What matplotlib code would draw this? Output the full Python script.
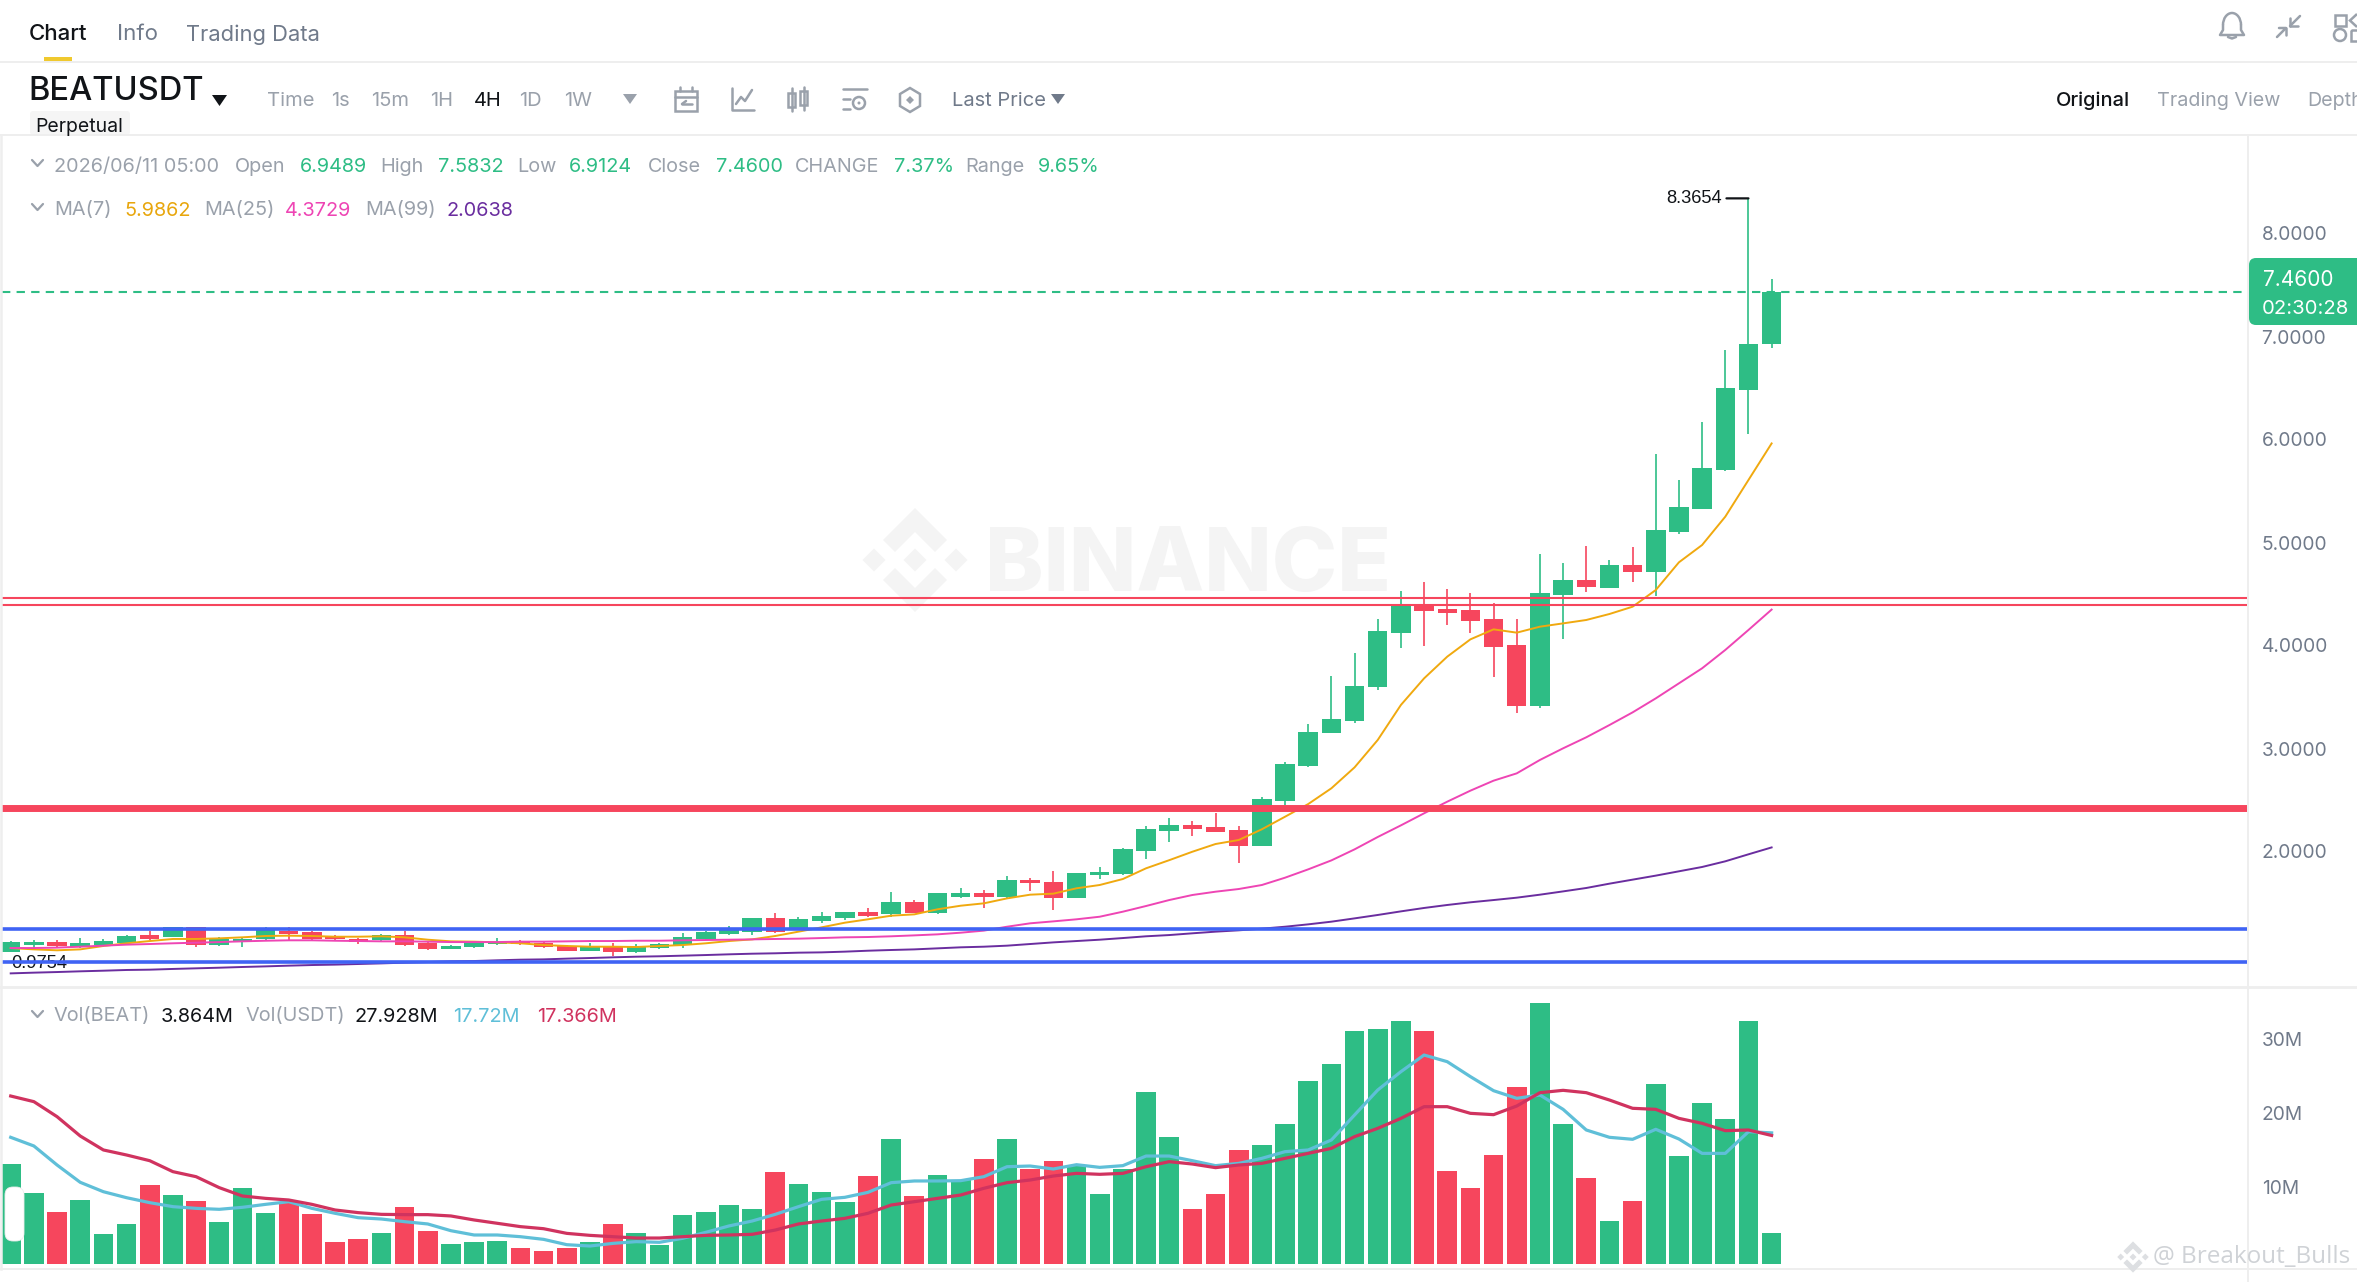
import matplotlib
matplotlib.use("Agg")
import matplotlib.pyplot as plt
from matplotlib.patches import FancyBboxPatch, Polygon, Rectangle, Circle, Arc
from matplotlib.transforms import ScaledTranslation

W, H = 2357, 1282
FONT = "Inter"
plt.rcParams["font.family"] = [FONT, "DejaVu Sans"]

opens = [1.045,1.113,1.145,1.100,1.116,1.139,1.210,1.194,1.294,1.116,1.152,1.171,1.256,1.243,1.197,1.175,1.162,1.214,1.133,1.078,
         1.094,1.123,1.142,1.133,1.107,1.061,1.107,1.052,1.087,1.120,1.178,1.227,1.243,1.379,1.275,1.353,1.375,1.434,1.417,1.537,
         1.430,1.586,1.621,1.579,1.747,1.731,1.576,1.793,1.806,2.032,2.226,2.281,2.259,2.233,2.081,2.515,2.858,3.171,3.294,3.618,
         4.149,4.418,4.379,4.372,4.278,4.029,3.440,4.514,4.660,4.586,4.809,4.741,5.130,5.346,5.728,6.508,6.9489]
highs = [1.155,1.165,1.165,1.188,1.175,1.214,1.256,1.294,1.294,1.191,1.191,1.290,1.294,1.256,1.214,1.181,1.224,1.256,1.149,1.116,
         1.145,1.181,1.165,1.142,1.113,1.133,1.133,1.126,1.133,1.236,1.256,1.301,1.382,1.424,1.385,1.440,1.437,1.472,1.631,1.553,
         1.618,1.667,1.650,1.786,1.763,1.838,1.812,1.877,2.055,2.272,2.346,2.320,2.395,2.275,2.550,2.890,3.262,3.728,3.948,4.278,
         4.557,4.637,4.570,4.534,4.440,4.278,4.913,4.828,4.990,4.854,4.977,5.880,5.634,6.197,6.893,8.3654,7.5832]
lows = [1.045,1.091,1.091,1.087,1.100,1.133,1.165,1.191,1.100,1.110,1.100,1.165,1.165,1.165,1.158,1.129,1.152,1.103,1.065,1.074,
        1.087,1.116,1.113,1.087,1.055,1.055,1.010,1.039,1.081,1.084,1.168,1.214,1.214,1.230,1.270,1.327,1.359,1.388,1.391,1.424,
        1.417,1.569,1.472,1.569,1.641,1.456,1.569,1.754,1.796,1.955,2.120,2.178,2.217,1.916,2.081,2.476,2.841,3.171,3.275,3.592,
        4.003,4.023,4.227,4.142,3.722,3.372,3.414,4.087,4.540,4.586,4.641,4.508,5.104,5.346,5.722,6.078,6.9124]
closes = [1.142,1.142,1.110,1.136,1.155,1.207,1.175,1.294,1.116,1.171,1.178,1.262,1.227,1.175,1.171,1.142,1.214,1.116,1.078,1.110,
          1.133,1.142,1.129,1.094,1.061,1.107,1.052,1.107,1.126,1.194,1.246,1.275,1.379,1.246,1.366,1.395,1.437,1.401,1.537,1.430,
          1.618,1.621,1.579,1.747,1.718,1.576,1.812,1.825,2.045,2.239,2.281,2.246,2.217,2.081,2.531,2.877,3.184,3.311,3.634,4.165,
          4.414,4.362,4.343,4.265,4.013,3.440,4.531,4.660,4.589,4.809,4.741,5.146,5.366,5.744,6.521,6.955,7.4600]

ma7 = [1.087,1.074,1.065,1.074,1.107,1.133,1.155,1.175,1.175,1.181,1.191,1.204,1.207,1.204,1.197,1.197,1.201,1.191,1.168,1.152,
       1.149,1.142,1.133,1.116,1.107,1.100,1.100,1.097,1.107,1.116,1.133,1.155,1.171,1.204,1.246,1.288,1.333,1.366,1.401,1.414,
       1.463,1.498,1.521,1.569,1.605,1.615,1.667,1.699,1.757,1.861,1.940,2.022,2.097,2.136,2.240,2.362,2.485,2.638,2.841,3.107,
       3.447,3.705,3.916,4.084,4.181,4.149,4.207,4.239,4.272,4.330,4.401,4.563,4.832,5.000,5.275,5.631,5.9862]
ma25 = [1.087,1.087,1.091,1.100,1.110,1.120,1.126,1.133,1.139,1.145,1.152,1.158,1.162,1.162,1.158,1.155,1.152,1.152,1.149,1.145,
        1.145,1.145,1.149,1.149,1.152,1.155,1.155,1.158,1.158,1.162,1.165,1.168,1.171,1.175,1.178,1.184,1.191,1.194,1.201,1.210,
        1.220,1.236,1.256,1.294,1.327,1.346,1.366,1.391,1.440,1.495,1.553,1.602,1.634,1.660,1.699,1.770,1.851,1.938,2.045,2.165,
        2.278,2.395,2.508,2.615,2.712,2.783,2.913,3.026,3.133,3.252,3.375,3.511,3.657,3.803,3.981,4.175,4.3729]
ma99 = [.841,.848,.854,.861,.867,.874,.877,.884,.890,.896,.903,.909,.916,.922,.926,.932,.938,.945,.951,.958,
        .961,.968,.974,.977,.984,.990,.997,1.003,1.007,1.013,1.019,1.026,1.032,1.036,1.042,1.045,1.052,1.061,1.068,1.074,
        1.084,1.094,1.100,1.110,1.126,1.142,1.155,1.168,1.184,1.201,1.213,1.230,1.246,1.259,1.275,1.294,1.317,1.343,1.375,1.408,
        1.443,1.476,1.505,1.531,1.553,1.576,1.605,1.637,1.670,1.712,1.751,1.790,1.832,1.874,1.929,1.997,2.0638]

volumes = [13.47,9.64,7.03,8.65,4.01,5.36,10.68,9.32,8.51,5.68,10.23,6.85,8.42,6.76,3.02,3.38,4.14,7.66,4.41,2.66,
           3.02,3.15,2.12,1.76,2.21,2.97,5.41,4.14,2.61,6.62,7.03,7.97,7.43,12.39,10.81,9.68,8.42,11.94,16.94,9.23,
           12.07,11.35,14.14,16.89,12.84,13.92,13.38,9.41,12.84,23.29,17.12,7.39,9.46,15.36,16.04,18.87,24.68,27.07,31.44,31.71,
           32.84,31.49,12.57,10.23,14.73,23.96,35.32,18.92,11.58,5.77,8.51,24.32,14.55,21.71,19.55,32.84,4.14]
vol_ma_short = [17.12,15.95,13.38,11.04,9.77,8.96,8.29,7.75,7.52,7.39,7.66,8.06,8.42,7.52,6.85,6.26,6.08,5.72,5.41,4.50,
                3.92,3.92,3.69,3.33,2.61,2.43,2.79,3.02,2.93,3.47,4.28,5.14,5.81,6.71,7.75,8.74,9.01,9.68,10.99,11.22,
                11.22,11.26,11.80,13.15,13.24,12.84,13.42,13.06,13.29,14.59,14.59,13.96,13.29,13.60,14.28,15.18,15.41,16.76,20.14,23.51,
                25.99,28.24,27.34,25.32,23.42,22.39,22.84,20.90,18.11,17.12,16.85,18.20,16.89,14.95,14.95,17.88,17.72]
vol_ma_long = [22.70,21.94,19.91,17.30,15.41,14.73,13.96,12.48,11.80,10.32,9.19,8.87,8.65,8.06,7.30,6.94,6.71,6.67,6.67,6.49,
               5.95,5.50,5.05,4.77,4.14,3.87,3.69,3.51,3.51,3.69,3.87,3.92,4.01,4.59,5.41,5.81,6.17,6.85,7.97,8.42,
               8.87,9.32,10.23,10.99,11.35,11.89,12.25,12.12,12.25,13.15,13.83,13.51,13.02,13.38,13.60,14.28,14.95,15.63,17.21,18.33,
               19.68,21.26,21.26,20.36,20.18,21.35,23.15,23.47,23.15,22.16,21.04,20.90,19.68,19.01,18.02,18.11,17.37]

price_ticks = [2, 3, 4, 5, 6, 7, 8]
price_tick_labels = ["2.0000", "3.0000", "4.0000", "5.0000", "6.0000", "7.0000", "8.0000"]
vol_ticks = [10, 20, 30]
vol_tick_labels = ["10M", "20M", "30M"]
support_blue = [1.275, 0.954]
resistance_thin = [4.485, 4.42]
resistance_thick = [2.447]
last_price = 7.46
peak_price = 8.3654
low_price_label = 0.9754

GREEN, RED = "#2EBD85", "#F6465D"
GRAY, DARK, LINE = "#9AA1AB", "#111418", "#EEEEEE"

fig = plt.figure(figsize=(W / 100, H / 100), dpi=100, facecolor="white")

def px_axes(x0, y0, x1, y1, **kw):
    return fig.add_axes([x0 / W, 1 - y1 / H, (x1 - x0) / W, (y1 - y0) / H], **kw)

# pixel-space axes for decorations
bg = px_axes(0, 0, W, H, zorder=0)
bg.set_xlim(0, W); bg.set_ylim(H, 0); bg.axis("off")
ui = px_axes(0, 0, W, H, zorder=3)
ui.set_xlim(0, W); ui.set_ylim(H, 0); ui.axis("off"); ui.patch.set_alpha(0)

SP, X0 = 23.17, 10.7
xl = ((2 - X0) / SP, (2247 - X0) / SP)
xs = list(range(len(closes)))
colors = [GREEN if c >= o else RED for o, c in zip(opens, closes)]

# price panel: y = 236 px at 8.0, 103 px per unit
ax = px_axes(2, 137, 2247, 986, zorder=1)
ax.patch.set_alpha(0)
ax.set_xlim(*xl)
ax.set_ylim(8 - (986 - 236) / 103, 8 + (236 - 137) / 103)
ax.vlines(xs, lows, highs, colors=colors, linewidth=1.2, zorder=2)
ax.bar(xs, [abs(c - o) for o, c in zip(opens, closes)], bottom=[min(o, c) for o, c in zip(opens, closes)],
       width=0.84, color=colors, linewidth=0, zorder=3)
ax.plot(xs, ma7, color="#F0A90F", lw=1.4, zorder=4)
ax.plot(xs, ma25, color="#EE45B4", lw=1.4, zorder=4)
ax.plot(xs, ma99, color="#6A2D9F", lw=1.4, zorder=4)
ax.text(1.24, 0.935, f"{low_price_label:.4f}", ha="center", va="center", fontsize=13.2,
        family="Liberation Sans", color=DARK, zorder=4)
for p in support_blue:
    ax.axhline(p, color="#3F63F4", lw=2.6, zorder=5)
for p in resistance_thin:
    ax.axhline(p, color=RED, lw=1.5, zorder=5)
for p in resistance_thick:
    ax.axhline(p, color=RED, lw=5, zorder=5)
ax.axhline(last_price, color=GREEN, lw=1.5, dashes=(4, 3), zorder=5)
peak_i = highs.index(peak_price)
ax.annotate(f"{peak_price:.4f}", (peak_i, peak_price), xytext=(-27, 0), textcoords="offset pixels",
            ha="right", va="center", fontsize=13.2, family="Liberation Sans", color=DARK)
ax.annotate("", (peak_i, peak_price), xytext=(-22, 0), textcoords="offset pixels",
            arrowprops=dict(arrowstyle="-", color=DARK, lw=1.6, shrinkA=0, shrinkB=0))

# volume panel: baseline 1264 px, 7.4 px per million
vax = px_axes(2, 988, 2247, 1269, zorder=1)
vax.patch.set_alpha(0)
vax.set_xlim(*xl)
vax.set_ylim(-(1269 - 1264) / 7.4, (1264 - 988) / 7.4)
vax.bar(xs, volumes, width=0.85, color=colors, linewidth=0, zorder=2)
vax.plot(xs, vol_ma_short, color="#5FBFD8", lw=2.3, zorder=3)
vax.plot(xs, vol_ma_long, color="#D0335F", lw=2.3, zorder=3)

for a, ticks, labels in ((ax, price_ticks, price_tick_labels), (vax, vol_ticks, vol_tick_labels)):
    a.set_yticks(ticks)
    a.set_yticklabels(labels)
    a.set_xticks([])
    a.yaxis.tick_right()
    a.tick_params(axis="y", length=0, pad=10.5, labelsize=13.8, labelcolor="#707A8A")
    for s in a.spines.values():
        s.set_visible(False)
    for lab in a.get_yticklabels():
        lab.set_transform(lab.get_transform() + ScaledTranslation(0, 2.5 / 100, fig.dpi_scale_trans))

# structure lines
for y in (62, 135):
    ui.plot([0, W], [y, y], color=LINE, lw=1.4)
ui.plot([0, W], [987, 987], color=LINE, lw=2)
ui.plot([0, W], [1269, 1269], color=LINE, lw=1.4)
ui.plot([2247.5, 2247.5], [135, 1282], color=LINE, lw=1.4)
ui.plot([1, 1], [135, 1269], color=LINE, lw=1.8)

def t(x, y, s, size=14.3, color=GRAY, **kw):
    ui.text(x, y + 1.5, s, fontsize=size, color=color, va="center", ha=kw.pop("ha", "left"), **kw)

t(29, 33, "Chart", 16, DARK, fontweight="medium")
t(117, 33, "Info", 16, "#707A8A")
t(186, 33, "Trading Data", 15.8, "#707A8A")
ui.add_patch(Rectangle((44, 57), 28, 5, color="#F0C92E", lw=0))
t(28, 90, "BEATUSDT", 23.5, DARK, fontweight="medium")
ui.add_patch(Polygon([[212, 95], [227, 95], [219.5, 106]], color=DARK, lw=0))
ui.add_patch(FancyBboxPatch((30, 111), 100, 24, boxstyle="round,pad=0,rounding_size=3", fc="#F5F5F5", ec="none", zorder=1))
t(35, 125, "Perpetual", 14, DARK, zorder=2)
for x, s, c in [(267, "Time", GRAY), (331, "1s", GRAY), (371, "15m", GRAY), (430, "1H", GRAY),
                (474, "4H", DARK), (519, "1D", GRAY), (564, "1W", GRAY), (952, "Last Price", "#707A8A")]:
    t(x, 99, s, 14.5, c)
for cx, col in ((630, GRAY), (1058, "#707A8A")):
    ui.add_patch(Polygon([[cx - 7, 94], [cx + 7, 94], [cx, 104]], color=col, lw=0))

# toolbar icons
IC = "#9AA1AB"
def ln(xs_, ys_, c=IC, lw=1.8):
    ui.plot(xs_, ys_, color=c, lw=lw, solid_capstyle="round")
ui.add_patch(Rectangle((675, 91), 22, 20, fill=False, ec=IC, lw=1.8))
ln([675, 697], [97, 97]); ln([680, 680], [87, 91]); ln([692, 692], [87, 91]); ln([682, 692], [104, 104]); ln([682, 686], [104, 101])
ln([732, 732, 754], [88, 110, 110]); ln([736, 741, 745, 752], [104, 97, 101, 90])
ui.add_patch(Rectangle((788, 93), 7, 14, fill=False, ec=IC, lw=1.8)); ui.add_patch(Rectangle((800, 91), 7, 14, fill=False, ec=IC, lw=1.8))
ln([791.5, 791.5], [88, 111]); ln([803.5, 803.5], [87, 110])
ln([843, 867], [89, 89]); ln([843, 850], [99, 99]); ln([843, 850], [109, 109])
ui.add_patch(Circle((859, 103), 6, fill=False, ec=IC, lw=1.8)); ui.add_patch(Circle((859, 103), 1.5, color=IC, lw=0))
ui.add_patch(Polygon([[910, 88], [920, 94], [920, 106], [910, 112], [900, 106], [900, 94]], fill=False, ec=IC, lw=1.8))
ui.add_patch(Polygon([[910, 96], [914, 100], [910, 104], [906, 100]], color=IC, lw=0))

# right toolbar
t(2056, 99, "Original", 14.4, DARK, fontweight="medium")
t(2157, 99, "Trading View", 14.2, GRAY)
t(2307, 99, "Depth", 14.2, GRAY)
ui.add_patch(Arc((2232, 25), 18, 24, theta1=180, theta2=360, ec=IC, lw=1.8))
ln([2223, 2223, 2220, 2244, 2241, 2241], [25, 30, 35, 35, 30, 25]); ln([2228, 2232, 2236], [37, 38.5, 37])
ln([2277, 2286, 2279], [37, 28, 28]); ln([2286, 2286], [28, 35])
ln([2300, 2290], [16, 26]); ln([2290, 2298], [26, 26]); ln([2290, 2290], [26, 18])
ui.add_patch(Rectangle((2335, 15), 11, 11, fill=False, ec=IC, lw=1.8))
ui.add_patch(Circle((2340, 35), 6, fill=False, ec=IC, lw=1.8))
ui.add_patch(Polygon([[2357, 14], [2350, 20.5], [2357, 27]], fill=False, ec=IC, lw=1.8, closed=False))
ui.add_patch(Rectangle((2351, 30), 11, 11, fill=False, ec=IC, lw=1.8))

# legend rows
def chevron(y):
    ln([32, 37.5, 43], [y - 4, y + 2, y - 4], c=IC, lw=1.6)
chevron(164); chevron(208); chevron(1015)
for x, s, c in [(54, "2026/06/11 05:00", GRAY), (235, "Open", GRAY), (300, "6.9489", GREEN), (380, "High", GRAY), (438, "7.5832", GREEN),
                (517, "Low", GRAY), (569, "6.9124", GREEN), (648, "Close", GRAY), (716, "7.4600", GREEN), (795, "CHANGE", GRAY),
                (894, "7.37%", GREEN), (965, "Range", GRAY), (1038, "9.65%", GREEN)]:
    t(x, 165, s, 14.3, c)
for x, s, c in [(54, "MA(7)", GRAY), (124, "5.9862", "#E8A60C"), (204, "MA(25)", GRAY), (285, "4.3729", "#EE45B4"),
                (365, "MA(99)", GRAY), (447, "2.0638", "#6A2D9F")]:
    t(x, 209, s, 14.3, c)
for x, s, c in [(54, "Vol(BEAT)", GRAY), (161, "3.864M", DARK), (245, "Vol(USDT)", GRAY), (355, "27.928M", DARK),
                (453, "17.72M", "#5FBFD8"), (537, "17.366M", "#D0335F")]:
    t(x, 1015, s, 14.3, c)

# price tag
ui.add_patch(FancyBboxPatch((2249, 258), 120, 67, boxstyle="round,pad=0,rounding_size=7", fc=GREEN, ec="none", zorder=4))
t(2263, 278, "7.4600", 15, "white", zorder=5)
t(2262, 307, "02:30:28", 14.6, "white", zorder=5)

# left handle
ui.add_patch(FancyBboxPatch((5, 1187), 19, 54, boxstyle="round,pad=0,rounding_size=8", fc="white", ec="#EEEEEE", lw=0.6, zorder=4))
ln([11, 16, 11], [1206, 1214, 1222], c="#B0B5BC", lw=1.3)

# watermarks
WM = "#F4F4F4"
bg.text(985, 568, "BINANCE", fontsize=63.5, fontweight="heavy", color=WM, va="center", ha="left")
def logo(axis, cx, cy, k, **style):
    chevrons = [[(0, -52), (32, -20), (20, -8), (0, -28), (-20, -8), (-32, -20)],
                [(0, 52), (32, 20), (20, 8), (0, 28), (-20, 8), (-32, 20)]]
    diamonds = [(0, 0), (-41, 0), (41, 0)]
    for ch in chevrons:
        axis.add_patch(Polygon([(cx + k * a, cy + k * b) for a, b in ch], **style))
    for dx, dy in diamonds:
        axis.add_patch(Polygon([(cx + k * (dx + a), cy + k * (dy + b)) for a, b in [(0, -11.5), (11.5, 0), (0, 11.5), (-11.5, 0)]], **style))
logo(bg, 915, 560, 1.0, fc=WM, ec="none")
logo(ui, 2133, 1257, 0.3, fc="#DDDFE2", ec="none", zorder=6)
ui.text(2153, 1257, "@ Breakout_Bulls", fontsize=17.5, family="Open Sans", color="#CFD2D6", va="center", ha="left", zorder=6)

fig.savefig("out.png", dpi=100)
